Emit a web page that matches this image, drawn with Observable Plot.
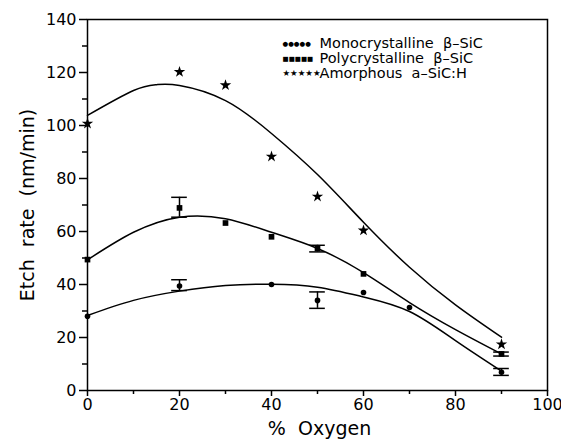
<!DOCTYPE html>
<html>
<head>
<meta charset="utf-8">
<script src="https://cdn.jsdelivr.net/npm/d3@7"></script>
<script src="https://cdn.jsdelivr.net/npm/@observablehq/plot@0.6"></script>
<style>
  html, body { margin: 0; padding: 0; background: #fff; }
  #chart { width: 561px; height: 439px; }
</style>
</head>
<body>
<div id="chart"></div>
<script>
// ---- Data ----
const seriesNames = ["Monocrystalline  β–SiC", "Polycrystalline  β–SiC", "Amorphous  a–SiC:H"];
const legendSymbols = ["●●●●●", "■■■■■", "★★★★★"];

// Measured points
const monoX = [0, 20, 40, 50, 60, 70, 90];
const monoY = [28, 39.4, 40, 34, 37, 31.3, 6.9];
const polyX = [0, 20, 30, 40, 50, 60, 90];
const polyY = [49.4, 68.9, 63.2, 58, 53.6, 44, 13.8];
const amorX = [0, 20, 30, 40, 50, 60, 90];
const amorY = [100.7, 120.2, 115.2, 88.3, 73.2, 60.4, 17.4];

// Error bars
const monoErrX = [20, 50, 90];
const monoErrLo = [37.7, 31, 5.7];
const monoErrHi = [41.8, 37.2, 8.3];
const polyErrX = [20, 50, 90];
const polyErrLo = [65.4, 52.3, 13];
const polyErrHi = [72.9, 54.8, 14.5];

// Fitted curves
const monoFitX = [0, 10, 20, 30, 40, 50, 60, 70, 80, 90];
const monoFitY = [28.3, 34, 37.5, 39.6, 40.1, 39, 35.3, 29.8, 18.8, 7.3];
const polyFitX = [0, 10, 20, 30, 40, 50, 60, 70, 80, 90];
const polyFitY = [49.3, 59.7, 65.4, 64.8, 59.7, 53.6, 44.5, 33.2, 23, 13.8];
const amorFitX = [0, 10, 15, 20, 30, 40, 50, 60, 70, 80, 90];
const amorFitY = [103.8, 113.2, 115.4, 115.1, 109.4, 97, 81.5, 63.5, 46.5, 32.3, 20.1];

// Ticks
const xTicks = [0, 20, 40, 60, 80, 100];
const xMinor = [10, 30, 50, 70, 90];
const yTicks = [0, 20, 40, 60, 80, 100, 120, 140];
const yMinor = [10, 30, 50, 70, 90, 110, 130];

// ---- Build tables ----
const pts = (xs, ys) => xs.map((x, i) => ({x, y: ys[i]}));
const errs = (xs, lo, hi) => xs.map((x, i) => ({x, lo: lo[i], hi: hi[i]}));
const capHalf = 1.7;

const monoPts = pts(monoX, monoY), polyPts = pts(polyX, polyY), amorPts = pts(amorX, amorY);
const monoErr = errs(monoErrX, monoErrLo, monoErrHi), polyErr = errs(polyErrX, polyErrLo, polyErrHi);
const allErr = monoErr.concat(polyErr);
const caps = allErr.flatMap(d => [{x: d.x, y: d.lo}, {x: d.x, y: d.hi}]);

const legendRows = seriesNames.map((name, i) => ({name, sym: legendSymbols[i], i}));
const symSize = [6.5, 6.5, 8.5];

const chart = Plot.plot({
  width: 561,
  height: 439,
  marginLeft: 87,
  marginRight: 14,
  marginTop: 19,
  marginBottom: 49,
  x: {domain: [0, 100]},
  y: {domain: [0, 140]},
  style: {fontFamily: "DejaVu Sans", fontSize: "16px", color: "#000", background: "#fff"},
  marks: [
    Plot.frame({stroke: "#000", strokeWidth: 1.5}),
    Plot.axisX({ticks: xMinor, tickSize: 4, tickFormat: () => "", strokeWidth: 1.5, label: null}),
    Plot.axisY({ticks: yMinor, tickSize: 5, tickFormat: () => "", strokeWidth: 1.5, label: null}),
    Plot.axisX({ticks: xTicks, tickSize: 6, tickPadding: 2, strokeWidth: 1.5, label: null, fontSize: 16}),
    Plot.axisY({ticks: yTicks, tickSize: 8, tickPadding: 3, strokeWidth: 1.5, label: null, fontSize: 16}),
    Plot.text(["Etch  rate  (nm/min)"], {frameAnchor: "left", textAnchor: "middle", lineAnchor: "middle", dx: -60, rotate: -90, fontSize: 19, letterSpacing: "1.4px", text: d => d}),
    Plot.text(["%  Oxygen"], {frameAnchor: "bottom", textAnchor: "middle", lineAnchor: "middle", dy: 38, dx: 2, fontSize: 19, letterSpacing: "1.3px", text: d => d}),
    // fitted curves
    Plot.line(pts(amorFitX, amorFitY), {x: "x", y: "y", curve: "natural", stroke: "#000", strokeWidth: 1.5}),
    Plot.line(pts(polyFitX, polyFitY), {x: "x", y: "y", curve: "natural", stroke: "#000", strokeWidth: 1.5}),
    Plot.line(pts(monoFitX, monoFitY), {x: "x", y: "y", curve: "natural", stroke: "#000", strokeWidth: 1.5}),
    // error bars
    Plot.ruleX(allErr, {x: "x", y1: "lo", y2: "hi", stroke: "#000", strokeWidth: 1.5}),
    Plot.ruleY(caps, {y: "y", x1: d => d.x - capHalf, x2: d => d.x + capHalf, stroke: "#000", strokeWidth: 1.5}),
    // points
    Plot.dot(monoPts, {x: "x", y: "y", r: 2.8, fill: "#000", symbol: "circle"}),
    Plot.dot(polyPts, {x: "x", y: "y", r: 3.2, fill: "#000", symbol: "square"}),
    Plot.dot(amorPts, {x: "x", y: "y", r: 3.6, fill: "#000", symbol: "star"}),
    // legend
    ...legendRows.map(r => Plot.text([r], {frameAnchor: "top-left", dx: 232, dy: 24 + r.i * 15, text: "name", textAnchor: "start", lineAnchor: "middle", fontSize: 14.5, letterSpacing: "1.4px"})),
    ...legendRows.map(r => Plot.text([r], {frameAnchor: "top-left", dx: 195, dy: 24 + r.i * 15, text: "sym", textAnchor: "start", lineAnchor: "middle", fontSize: symSize[r.i]}))
  ]
});
document.getElementById("chart").appendChild(chart);
</script>
</body>
</html>
